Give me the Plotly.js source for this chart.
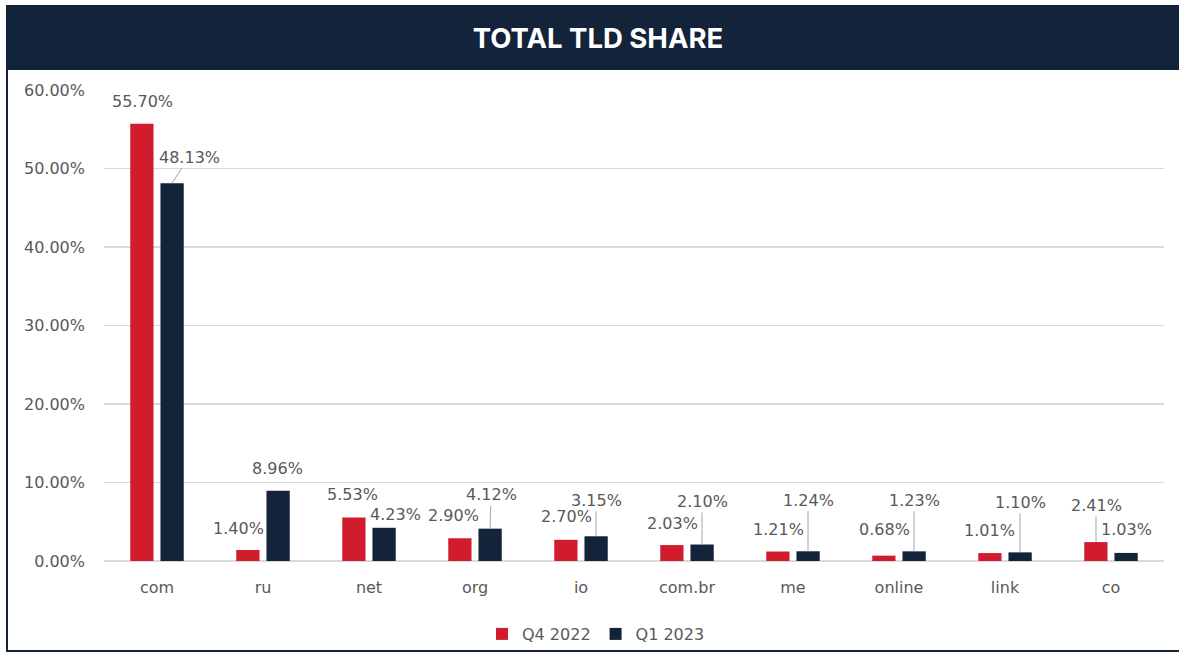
<!DOCTYPE html>
<html>
<head>
<meta charset="utf-8">
<script src="https://cdn.plot.ly/plotly-3.0.1.min.js"></script>
<style>
  html, body { margin: 0; padding: 0; background: #ffffff; overflow: hidden; }
  #chart { width: 1179px; height: 653px; }
</style>
</head>
<body>
<div id="chart"></div>
<script>
// ---- data ----
const categories = ['com', 'ru', 'net', 'org', 'io', 'com.br', 'me', 'online', 'link', 'co'];
const seriesNames = ['Q4 2022', 'Q1 2023'];
const q4_2022 = [55.70, 1.40, 5.53, 2.90, 2.70, 2.03, 1.21, 0.68, 1.01, 2.41];
const q1_2023 = [48.13, 8.96, 4.23, 4.12, 3.15, 2.10, 1.24, 1.23, 1.10, 1.03];
const yTickVals = [0, 10, 20, 30, 40, 50, 60];
const chartTitle = 'TOTAL TLD SHARE';

// ---- label placement (pixel offsets from bar top: dx, dy, leader line) ----
const labelPosQ4 = [[0,-22,false],[-10,-22,false],[-2,-23,false],[-7,-23,false],[0,-23,false],
                    [0,-22,false],[0,-22,false],[0,-26,false],[-1,-23,false],[0,-37,true]];
const labelPosQ1 = [[17,-26,true],[-1,-22,false],[11,-13,false],[1,-34,true],[0,-36,true],
                    [0,-43,true],[0,-51,true],[0,-51,true],[0,-50,true],[0,-23,false]];

// ---- style ----
const W = 1179, H = 653;
const M = { l: 104, r: 15, t: 90, b: 92, autoexpand: false };
const plotW = W - M.l - M.r, plotH = H - M.t - M.b;
const RED = '#d01c2c', NAVY = '#13233a', TEXT = '#595959', GRID = '#d9d9d9';
const FONT = 'DejaVu Sans, sans-serif';
const barShift = 15;

const px2x = px => (px - M.l) / plotW;
const px2y = py => (H - M.b - py) / plotH;

const traces = [
  { type: 'bar', name: seriesNames[0], x: categories, y: q4_2022, marker: { color: RED }, hoverinfo: 'skip' },
  { type: 'bar', name: seriesNames[1], x: categories, y: q1_2023, marker: { color: NAVY }, hoverinfo: 'skip' }
];

const annotations = [];
function addLabels(values, pos, shift) {
  values.forEach((v, i) => {
    const [dx, dy, arrow] = pos[i];
    const base = {
      x: categories[i], y: v, xref: 'x', yref: 'y',
      text: v.toFixed(2) + '%',
      font: { family: FONT, size: 16, color: TEXT }
    };
    if (arrow) {
      Object.assign(base, {
        showarrow: true, ax: dx, ay: dy, xshift: shift,
        arrowhead: 0, arrowwidth: 1, arrowcolor: '#a6a6a6', standoff: 0
      });
    } else {
      Object.assign(base, {
        showarrow: false, xshift: shift + dx, yshift: -dy,
        xanchor: 'center', yanchor: 'middle'
      });
    }
    annotations.push(base);
  });
}
addLabels(q4_2022, labelPosQ4, -barShift);
addLabels(q1_2023, labelPosQ1, barShift);

const shapes = [
  { type: 'rect', xref: 'paper', yref: 'paper', x0: px2x(6), x1: px2x(W), y0: px2y(70), y1: px2y(5),
    fillcolor: '#12233a', line: { width: 0 }, layer: 'below' },
  { type: 'line', xref: 'paper', yref: 'paper', x0: px2x(7), x1: px2x(7), y0: px2y(70), y1: px2y(651),
    line: { color: NAVY, width: 2 } },
  { type: 'line', xref: 'paper', yref: 'paper', x0: px2x(6), x1: px2x(W), y0: px2y(651), y1: px2y(651),
    line: { color: NAVY, width: 2 } }
];

const layout = {
  width: W, height: H, autosize: false,
  margin: M,
  paper_bgcolor: '#ffffff', plot_bgcolor: '#ffffff',
  font: { family: FONT, size: 16, color: TEXT },
  title: {
    text: '<b>' + chartTitle + '</b>',
    font: { family: 'Inter, Roboto, sans-serif', size: 27.5, color: '#ffffff' },
    x: 598 / W, xref: 'container', xanchor: 'center',
    y: 1 - 38 / H, yref: 'container', yanchor: 'middle'
  },
  barmode: 'group', bargap: 0.43, bargroupgap: 0.23,
  xaxis: {
    type: 'category', showgrid: false, showline: false, zeroline: false,
    ticks: '', tickfont: { family: FONT, size: 16, color: TEXT }, ticklabelstandoff: 15,
    fixedrange: true
  },
  yaxis: {
    range: [0, 60], tickvals: yTickVals, ticktext: yTickVals.map(v => v.toFixed(2) + '%'),
    showgrid: true, gridcolor: GRID, gridwidth: 1.5,
    zeroline: true, zerolinecolor: GRID, zerolinewidth: 1.5,
    showline: false, ticks: '', tickfont: { family: FONT, size: 16, color: TEXT },
    ticklabelstandoff: 18, fixedrange: true
  },
  showlegend: true,
  legend: {
    orientation: 'h', x: px2x(596), xanchor: 'center', y: px2y(634), yanchor: 'middle',
    font: { family: FONT, size: 16, color: TEXT }, traceorder: 'normal',
    itemwidth: 30, bgcolor: 'rgba(0,0,0,0)'
  },
  annotations: annotations,
  shapes: shapes
};

Plotly.newPlot('chart', traces, layout, { staticPlot: true, displayModeBar: false });
</script>
</body>
</html>
